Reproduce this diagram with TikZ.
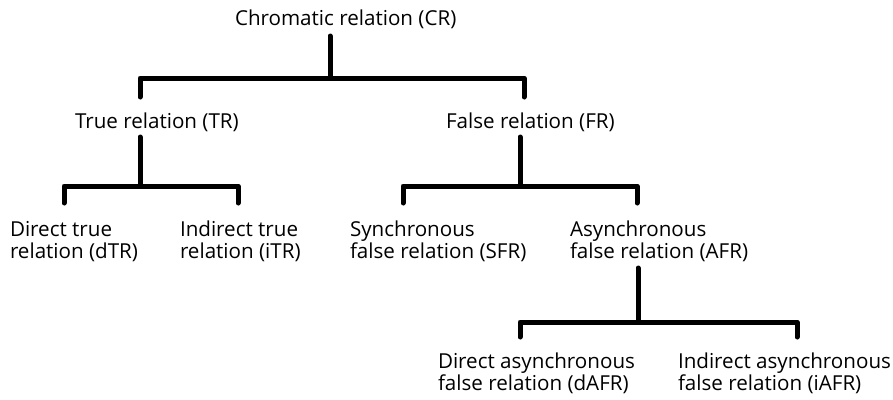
\documentclass[tikz,border=0pt]{standalone}
\usepackage{fontspec}
\setmainfont{Open Sans}
\begin{document}
\begin{tikzpicture}[x=1pt,y=-1pt,
  lbl/.style={inner sep=0pt,outer sep=0pt,align=left,anchor=base west,font=\fontsize{20.6}{22}\selectfont},
  tree/.style={line width=5pt,line cap=round,line join=round}]
\useasboundingbox (0,0) rectangle (893,399);
\fill[white] (0,0) rectangle (893,399);
% nodes
\node[lbl] (CR) at (235,25) {Chromatic relation (CR)};
\node[lbl] (TR) at (75,128) {True relation (TR)};
\node[lbl] (FR) at (446,128) {False relation (FR)};
\node[lbl] (dTR) at (10,258) {Direct true\\relation (dTR)};
\node[lbl] (iTR) at (180,258) {Indirect true\\relation (iTR)};
\node[lbl] (SFR) at (350,258) {Synchronous\\false relation (SFR)};
\node[lbl] (AFR) at (570,258) {Asynchronous\\false relation (AFR)};
\node[lbl] (dAFR) at (438,390) {Direct asynchronous\\false relation (dAFR)};
\node[lbl] (iAFR) at (678,390) {Indirect asynchronous\\false relation (iAFR)};
% connector points
\coordinate (cr0) at (330,36);
\coordinate (cr1) at (330,78);
\coordinate (trtop) at (140,97);
\coordinate (frtop) at (524,97);
\coordinate (tr0) at (140,137);
\coordinate (tr1) at (140,186);
\coordinate (dtrtop) at (64,203);
\coordinate (itrtop) at (238,203);
\coordinate (fr0) at (520,137);
\coordinate (fr1) at (520,186);
\coordinate (sfrtop) at (403,203);
\coordinate (afrtop) at (637,203);
\coordinate (afr0) at (638,268);
\coordinate (afr1) at (638,322);
\coordinate (dafrtop) at (520,337);
\coordinate (iafrtop) at (797,337);
% connectors
\draw[tree] (cr0) -- (cr1);
\draw[tree] (trtop) |- (cr1) -| (frtop);
\draw[tree] (tr0) -- (tr1);
\draw[tree] (dtrtop) |- (tr1) -| (itrtop);
\draw[tree] (fr0) -- (fr1);
\draw[tree] (sfrtop) |- (fr1) -| (afrtop);
\draw[tree] (afr0) -- (afr1);
\draw[tree] (dafrtop) |- (afr1) -| (iafrtop);
\end{tikzpicture}
\end{document}
